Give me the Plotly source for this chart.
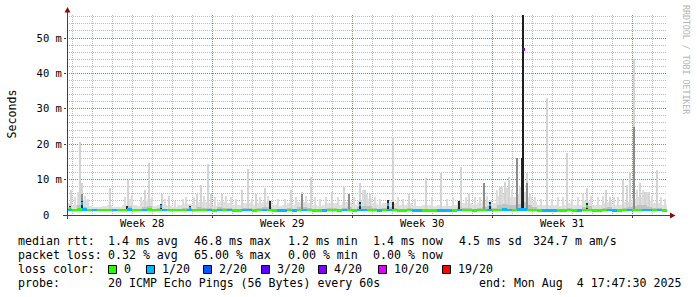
import plotly.graph_objects as go
import pandas as pd

# ---------------- data ----------------
START = "2025-07-05 17:47:30"
END = "2025-08-04 17:47:30"
BIN_FIRST = "2025-07-05 21:00"   # centre of first 6-hour bin
BASE_RTT = 1.15                  # ms, lowest ping (bottom of smoke)

# top of the light smoke per 6-hour bin, ms
smoke_top = [
    3.3, 2.9, 5.0, 4.2, 2.5, 2.2, 2.2, 2.5, 2.9, 2.4,
    2.2, 2.9, 4.5, 2.9, 2.5, 4.0, 4.5, 2.5, 2.9, 2.9,
    2.5, 2.4, 2.7, 3.1, 3.1, 2.9, 3.7, 3.7, 3.3, 2.5,
    3.7, 3.7, 3.3, 2.9, 2.7, 3.3, 3.3, 2.9, 3.3, 3.7,
    4.0, 2.9, 2.5, 2.9, 3.3, 2.9, 3.7, 3.7, 3.3, 2.9,
    2.5, 2.9, 3.3, 3.3, 2.9, 3.7, 3.7, 2.9, 4.0, 4.5,
    4.5, 3.3, 2.9, 3.3, 3.7, 3.3, 2.9, 2.9, 3.3, 2.5,
    2.5, 2.9, 2.9, 2.5, 2.9, 2.5, 2.5, 2.9, 3.7, 3.3,
    3.3, 2.9, 3.3, 4.0, 4.0, 3.3, 5.5, 6.0, 5.0, 5.0,
    6.0, 6.5, 5.0, 3.7, 2.9, 2.9, 2.9, 2.7, 2.5, 2.9,
    3.3, 2.9, 2.9, 4.0, 4.0, 2.9, 2.9, 3.3, 3.7, 2.9,
    2.9, 3.7, 3.7, 4.5, 5.0, 5.0, 4.0, 3.3, 3.3, 2.9,
]
# top of the denser (inner) smoke per 6-hour bin, ms
smoke_mid = [
    2.0, 1.8, 2.8, 2.4, 1.7, 1.6, 1.6, 1.7, 1.8, 1.7,
    1.6, 1.8, 2.5, 1.8, 1.7, 2.3, 2.5, 1.7, 1.9, 1.8,
    1.7, 1.7, 1.8, 2.0, 2.0, 1.8, 2.2, 2.1, 2.0, 1.7,
    2.2, 2.1, 2.0, 1.8, 1.8, 2.0, 2.0, 1.8, 2.0, 2.2,
    2.4, 1.8, 1.7, 1.8, 2.0, 1.8, 2.2, 2.3, 2.0, 1.8,
    1.7, 1.8, 2.0, 2.0, 1.8, 2.1, 2.2, 1.8, 2.4, 2.6,
    2.5, 2.0, 1.8, 2.0, 2.2, 2.0, 1.8, 1.8, 2.0, 1.7,
    1.7, 1.8, 1.8, 1.7, 1.8, 1.7, 1.7, 1.8, 2.2, 2.0,
    2.0, 1.8, 2.0, 2.4, 2.5, 2.0, 2.9, 3.2, 2.8, 2.8,
    3.2, 3.6, 2.8, 2.2, 1.8, 1.8, 1.8, 1.7, 1.7, 1.8,
    2.0, 1.8, 1.8, 2.4, 2.5, 1.8, 1.8, 2.0, 2.2, 1.8,
    1.8, 2.1, 2.2, 2.6, 2.8, 2.8, 2.4, 2.0, 2.0, 1.8,
]
# median rtt per 6-hour bin, ms
median_ms = [
    1.4, 1.4, 1.5, 1.5, 1.4, 1.4, 1.4, 1.4, 1.4, 1.4,
    1.4, 1.4, 1.5, 1.4, 1.4, 1.4, 1.5, 1.4, 1.4, 1.4,
    1.4, 1.4, 1.4, 1.4, 1.4, 1.4, 1.4, 1.4, 1.4, 1.3,
    1.4, 1.4, 1.4, 1.3, 1.3, 1.4, 1.4, 1.3, 1.4, 1.4,
    1.4, 1.3, 1.3, 1.3, 1.4, 1.3, 1.4, 1.4, 1.4, 1.3,
    1.3, 1.3, 1.4, 1.4, 1.3, 1.4, 1.4, 1.3, 1.4, 1.4,
    1.4, 1.4, 1.3, 1.4, 1.4, 1.4, 1.3, 1.3, 1.4, 1.3,
    1.3, 1.3, 1.3, 1.3, 1.3, 1.3, 1.3, 1.3, 1.4, 1.4,
    1.4, 1.3, 1.4, 1.4, 1.4, 1.4, 1.4, 1.5, 1.4, 1.4,
    1.5, 1.5, 1.4, 1.4, 1.3, 1.3, 1.3, 1.3, 1.3, 1.3,
    1.4, 1.3, 1.3, 1.4, 1.4, 1.3, 1.3, 1.4, 1.4, 1.3,
    1.3, 1.4, 1.4, 1.4, 1.4, 1.4, 1.4, 1.4, 1.4, 1.3,
]
# lost pings (of 20) per 6-hour bin
loss_cnt = [
    1, 0, 0, 1, 0, 1, 0, 0, 0, 1,
    0, 0, 1, 0, 0, 1, 0, 0, 0, 1,
    0, 0, 0, 0, 1, 0, 0, 0, 1, 0,
    1, 0, 1, 0, 0, 1, 1, 0, 0, 1,
    0, 0, 1, 1, 0, 1, 0, 1, 0, 0,
    0, 1, 0, 0, 0, 1, 0, 0, 1, 1,
    0, 0, 1, 0, 1, 0, 0, 0, 0, 1,
    1, 0, 0, 0, 1, 1, 1, 0, 1, 0,
    0, 0, 0, 0, 1, 0, 0, 1, 1, 0,
    1, 1, 0, 0, 0, 1, 1, 1, 0, 0,
    0, 0, 1, 0, 0, 0, 0, 0, 1, 1,
    0, 0, 1, 0, 0, 1, 1, 0, 1, 0,
]

# small haze peaks (max ping), hours after START, ms
haze_hours = [
    9.6, 13.2, 21.6, 25.2, 69.6, 78.0, 88.8, 102.0, 117.6, 129.6,
    139.2, 142.8, 152.4, 164.4, 177.6, 190.8, 196.8, 202.8, 222.0, 231.6,
    241.2, 253.2, 261.6, 274.8, 286.8, 297.6, 303.6, 310.8, 325.2, 344.4,
    355.2, 360.0, 369.6, 375.6, 397.2, 403.2, 417.6, 438.0, 456.0, 463.2,
    478.8, 489.6, 495.6, 504.0, 516.0, 522.0, 528.0, 534.0, 543.6, 555.6,
    561.6, 568.8, 582.0, 589.2, 595.2, 606.0, 613.2, 619.2, 628.8, 637.2,
    643.2, 656.4, 661.2, 684.0, 691.2, 696.0, 702.0, 712.8, 717.6,
]
haze_ms = [
    5.0, 6.5, 5.5, 4.5, 5.0, 5.6, 5.0, 5.0, 4.5, 4.0,
    4.5, 5.0, 5.0, 5.5, 5.0, 5.5, 5.0, 4.5, 4.5, 5.0,
    5.5, 4.5, 4.5, 5.0, 5.5, 5.0, 4.5, 5.0, 5.0, 5.0,
    7.0, 6.0, 5.0, 4.5, 5.0, 4.5, 4.5, 5.0, 4.5, 5.0,
    5.0, 5.0, 5.0, 5.5, 7.0, 8.0, 7.5, 7.0, 8.0, 6.0,
    5.0, 4.5, 4.5, 5.0, 5.0, 4.5, 5.0, 6.0, 5.5, 5.0,
    5.5, 5.0, 5.0, 7.0, 7.0, 6.5, 5.5, 5.0, 4.5,
]
# single-column peaks of the light smoke (max ping), ms
spike_times = [
    "2025-07-05 22:30", "2025-07-06 09:20", "2025-07-06 11:45", "2025-07-07 21:20",
    "2025-07-08 19:00", "2025-07-09 15:20", "2025-07-09 20:10", "2025-07-10 11:45",
    "2025-07-10 20:10", "2025-07-12 05:45", "2025-07-12 10:35", "2025-07-12 19:00",
    "2025-07-12 22:35", "2025-07-13 11:45", "2025-07-14 11:45", "2025-07-14 19:00",
    "2025-07-15 04:35", "2025-07-15 15:20", "2025-07-16 22:35", "2025-07-17 11:45",
    "2025-07-17 22:35", "2025-07-18 23:45", "2025-07-19 14:10", "2025-07-19 20:10",
    "2025-07-20 09:20", "2025-07-20 15:20", "2025-07-20 21:20", "2025-07-22 01:00",
    "2025-07-22 20:10", "2025-07-23 16:35", "2025-07-24 10:35", "2025-07-25 10:35",
    "2025-07-25 20:10", "2025-07-26 14:10", "2025-07-27 09:20", "2025-07-27 15:20",
    "2025-07-27 20:10", "2025-07-28 05:45", "2025-07-28 17:45", "2025-07-29 17:45",
    "2025-07-30 17:45", "2025-07-31 17:45", "2025-08-01 16:35", "2025-08-01 21:20",
    "2025-08-02 13:00", "2025-08-02 17:45", "2025-08-02 21:20", "2025-08-03 02:10",
    "2025-08-03 09:20", "2025-08-03 15:20", "2025-08-03 20:10", "2025-08-04 05:45",
]
spike_ms = [
    7.0, 20.5, 9.0, 7.6,
    10.0, 7.0, 14.6, 6.0,
    5.3, 6.0, 8.4, 14.5,
    6.0, 6.0, 7.0, 13.0,
    6.0, 7.6, 7.0, 6.5,
    10.8, 6.5, 8.0, 6.0,
    9.0, 7.0, 6.0, 22.0,
    6.0, 10.5, 12.0, 13.6,
    6.0, 9.0, 8.0, 9.3,
    10.7, 16.0, 12.0, 33.0,
    17.5, 7.6, 7.0, 5.0,
    10.0, 8.5, 12.0, 44.0,
    9.0, 6.4, 6.4, 12.7,
]
# columns where many pings were slow (medium grey), ms
gray_times = ["2025-07-06 11:45", "2025-07-17 11:45", "2025-07-19 20:10",
              "2025-07-26 14:10", "2025-07-28 05:45", "2025-07-28 17:45",
              "2025-08-03 02:10"]
gray_ms = [6.0, 6.0, 6.0, 9.0, 16.0, 9.0, 25.0]
# columns where most pings were slow (near black), ms
dark_times = ["2025-07-05 21:20", "2025-07-06 11:45", "2025-07-08 17:45",
              "2025-07-10 10:35", "2025-07-11 21:20", "2025-07-15 21:20",
              "2025-07-20 09:20", "2025-07-21 19:00", "2025-07-22 01:00",
              "2025-07-25 08:10", "2025-07-26 21:20", "2025-07-28 11:45",
              "2025-07-31 17:45"]
dark_ms = [2.6, 4.0, 2.5, 3.0, 2.5, 4.0, 3.6, 4.2, 3.6, 4.0, 3.6, 16.0, 3.4]
peak_time = "2025-07-28 13:00"
peak_ms = 56.5
# single columns with a raised median
evt_times = ["2025-07-05 21:20", "2025-07-06 11:45", "2025-07-10 10:35",
             "2025-07-11 21:20", "2025-07-20 09:20", "2025-07-21 19:00",
             "2025-07-26 21:20", "2025-07-28 14:10", "2025-07-31 17:45"]
evt_median = [2.0, 3.3, 2.5, 2.0, 2.8, 3.0, 2.8, 46.8, 2.5]
evt_loss = [0, 1, 1, 1, 1, 1, 1, 4, 0]

week_label_times = ["2025-07-09 12:00", "2025-07-16 12:00",
                    "2025-07-23 12:00", "2025-07-30 12:00"]
week_labels = ["Week 28", "Week 29", "Week 30", "Week 31"]
week_edges = ["2025-07-13", "2025-07-20", "2025-07-27", "2025-08-03"]

y_tickvals = [0, 10, 20, 30, 40, 50]
y_ticktext = ["0\u00a0\u00a0", "10 m", "20 m", "30 m", "40 m", "50 m"]
Y_MAX = 56.5

loss_levels = [0, 1, 2, 3, 4, 10, 19]
loss_names = ["0", "1/20", "2/20", "3/20", "4/20", "10/20", "19/20"]
loss_colors = ["#26ff00", "#00b8ff", "#0059ff", "#5e00ff", "#7e00ff", "#dd00ff", "#ff0000"]

legend_rtt = ["median rtt:", "1.4 ms avg", "46.8 ms max", "1.2 ms min",
              "1.4 ms now", "4.5 ms sd", "324.7 m am/s"]
legend_loss = ["packet loss:", "0.32 % avg", "65.00 % max", "0.00 % min", "0.00 % now"]
probe_text = ["probe:", "20 ICMP Echo Pings (56 Bytes) every 60s",
              "end: Mon Aug  4 17:47:30 2025"]
watermark = "RRDTOOL / TOBI OETIKER"

# ---------------- layout helpers ----------------
W, H = 697, 297
X0, X1, YB, YT = 67, 667, 215, 15
MONO = "DejaVu Sans Mono"
LEG_SIZE = 11.6


def px(x):
    return (x - X0) / (X1 - X0)


def py(y):
    return (YB - y) / (YB - YT)


def loss_color(n):
    for lvl, c in zip(loss_levels, loss_colors):
        if n <= lvl:
            return c
    return loss_colors[-1]


bin_times = pd.date_range(BIN_FIRST, periods=len(smoke_top), freq="6h")
haze_times = pd.Timestamp(START) + pd.to_timedelta(haze_hours, unit="h")
BIN_W = 6 * 3600 * 1000
COL_W = 80 * 60 * 1000
HALF = 0.38

fig = go.Figure()


def bars(x, top, color, width, base=BASE_RTT):
    fig.add_trace(go.Bar(
        x=list(x), y=[t - base for t in top], base=base, width=width,
        marker=dict(color=color, line=dict(width=0)), hoverinfo="skip",
        showlegend=False))


bars(bin_times, smoke_top, "#E0E0E0", BIN_W)
bars(haze_times, haze_ms, "#DCDCDC", COL_W)
bars(pd.to_datetime(spike_times), spike_ms, "#D4D4D4", COL_W)
bars(bin_times, smoke_mid, "#C2C2C2", BIN_W)
bars(pd.to_datetime(gray_times), gray_ms, "#8C8C8C", COL_W)
bars(pd.to_datetime(dark_times), dark_ms, "#2A2A2A", COL_W)
bars(pd.to_datetime([peak_time]), [peak_ms], "#1E1E1E", 2 * COL_W)

# median band coloured by loss
fig.add_trace(go.Bar(
    x=bin_times, y=[2 * HALF] * len(median_ms), base=[m - HALF for m in median_ms],
    width=BIN_W, marker=dict(color=[loss_color(n) for n in loss_cnt], line=dict(width=0)),
    hoverinfo="skip", showlegend=False))
fig.add_trace(go.Bar(
    x=pd.to_datetime(evt_times), y=[2 * HALF] * len(evt_median),
    base=[m - HALF for m in evt_median], width=COL_W,
    marker=dict(color=[loss_color(n) for n in evt_loss], line=dict(width=0)),
    hoverinfo="skip", showlegend=False))

GRID = "rgba(144,144,144,0.6)"
MGRID = "rgba(224,80,80,0.8)"
AXIS = "#404040"
ARROW = "#801010"

shapes = [
    dict(type="line", xref="paper", yref="paper", x0=px(63), x1=px(671),
         y0=py(215.5), y1=py(215.5), line=dict(color=AXIS, width=1)),
    dict(type="line", xref="paper", yref="paper", x0=px(67.5), x1=px(67.5),
         y0=py(219), y1=py(11), line=dict(color=AXIS, width=1)),
    dict(type="path", xref="paper", yref="paper", fillcolor=ARROW, line=dict(width=0),
         path=f"M {px(670)} {py(212.5)} L {px(670)} {py(218.5)} L {px(675.5)} {py(215.5)} Z"),
    dict(type="path", xref="paper", yref="paper", fillcolor=ARROW, line=dict(width=0),
         path=f"M {px(64.5)} {py(12.5)} L {px(70.5)} {py(12.5)} L {px(67.5)} {py(7)} Z"),
]

annotations = []
LINE_Y = [241, 255, 269, 283]


def text(x, y, s, size=LEG_SIZE, **kw):
    annotations.append(dict(xref="paper", yref="paper", x=px(x), y=py(y), text=s,
                            showarrow=False, xanchor="left", yanchor="middle",
                            font=dict(family=MONO, size=size, color="#000000"),
                            borderpad=0, **kw))


for xx, s in zip([17, 107, 193, 287, 372, 458, 532], legend_rtt):
    text(xx, LINE_Y[0], s.replace(" ", "\u00a0"))
for xx, s in zip([17, 107, 193, 287, 372], legend_loss):
    text(xx, LINE_Y[1], s.replace(" ", "\u00a0"))
text(17, LINE_Y[2], "loss color:".replace(" ", "\u00a0"))
box_x = [108, 146, 203, 261, 318, 378, 442]
for bx, name, c in zip(box_x, loss_names, loss_colors):
    shapes.append(dict(type="rect", xref="paper", yref="paper",
                       x0=px(bx + 0.5), x1=px(bx + 8.5), y0=py(LINE_Y[2] + 4.5),
                       y1=py(LINE_Y[2] - 3.5), fillcolor=c,
                       line=dict(color="#000000", width=1)))
    text(bx + 15, LINE_Y[2], name)
for xx, s in zip([17, 107, 478], probe_text):
    text(xx, LINE_Y[3], s.replace(" ", "\u00a0"))

annotations.append(dict(xref="paper", yref="paper", x=px(11), y=py(114.5),
                        text="Seconds", showarrow=False, textangle=-90,
                        xanchor="center", yanchor="middle",
                        font=dict(family=MONO, size=LEG_SIZE, color="#000000")))
annotations.append(dict(xref="paper", yref="paper", x=px(686), y=py(59),
                        text=watermark.replace(" ", "\u00a0"), showarrow=False,
                        textangle=90, xanchor="center", yanchor="middle",
                        font=dict(family=MONO, size=8.25, color="#B4B4B4")))

fig.update_layout(
    width=W, height=H,
    margin=dict(l=X0, r=W - X1, t=YT, b=H - YB),
    paper_bgcolor="#FFFFFF", plot_bgcolor="#FFFFFF",
    barmode="overlay", bargap=0,
    showlegend=False,
    font=dict(family=MONO, size=12, color="#000000"),
    xaxis=dict(
        type="date", range=[START, END], tickmode="array",
        tickvals=week_label_times, ticktext=week_labels,
        ticks="", showgrid=False, zeroline=False, showline=False,
        tickfont=dict(family=MONO, size=10.5, color="#000000"),
        minor=dict(tickmode="linear", tick0="2025-07-06", dtick=86400000,
                   showgrid=True, gridcolor=GRID, griddash="1px,1px", gridwidth=1),
        fixedrange=True,
    ),
    xaxis2=dict(
        type="date", range=[START, END], overlaying="x", anchor="y",
        tickmode="array", tickvals=week_edges, showticklabels=False,
        ticks="outside", ticklen=2, tickcolor=AXIS,
        showgrid=True, gridcolor=MGRID, griddash="1px,1px", gridwidth=1,
        zeroline=False, showline=False,
    ),
    yaxis=dict(
        range=[0, Y_MAX], tickmode="array", tickvals=y_tickvals, ticktext=y_ticktext,
        ticks="outside", ticklen=2, tickcolor=AXIS,
        showgrid=True, gridcolor=MGRID, griddash="1px,1px", gridwidth=1,
        zeroline=False, showline=False,
        tickfont=dict(family=MONO, size=10.5, color="#000000"),
        minor=dict(tickmode="linear", tick0=0, dtick=2, showgrid=True,
                   gridcolor=GRID, griddash="1px,1px", gridwidth=1),
    ),
    shapes=shapes,
    annotations=annotations,
)

# invisible trace so xaxis2 is drawn
fig.add_trace(go.Scatter(x=[START], y=[0], xaxis="x2", mode="markers",
                         marker=dict(opacity=0), hoverinfo="skip", showlegend=False))

fig.write_html("out.html")
